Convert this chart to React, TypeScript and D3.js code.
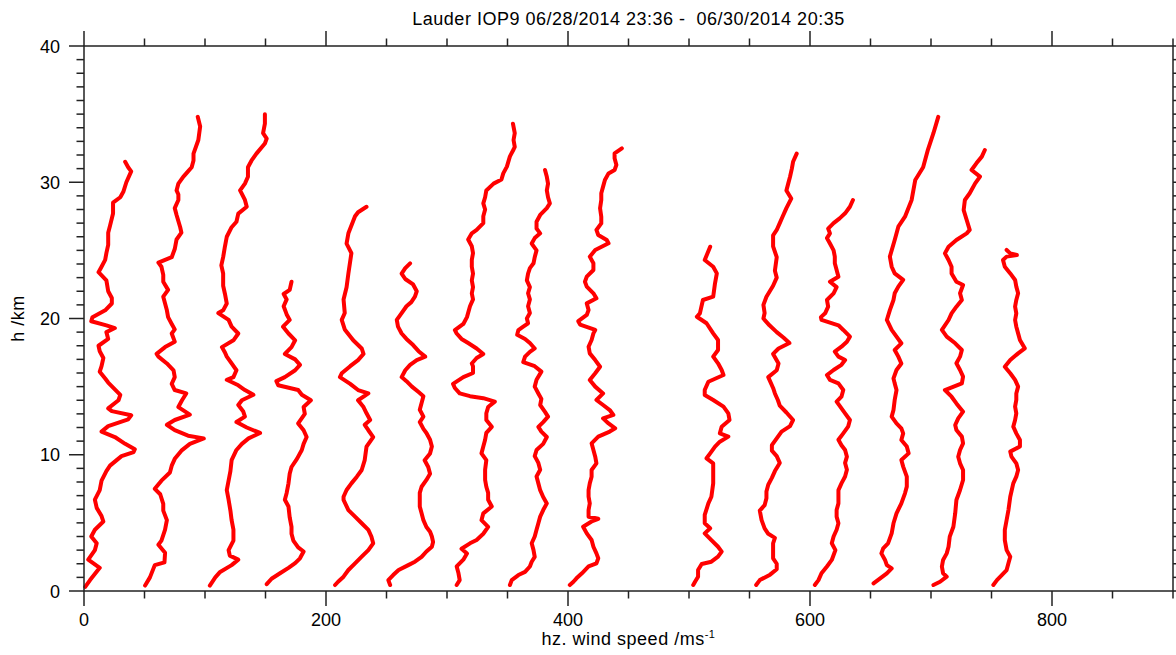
import React from "react";
import * as d3 from "d3";

const W = 1176;
const H = 655;
const plot = { left: 84, right: 1173, top: 46, bottom: 591 };

const titleText = "Lauder IOP9 06/28/2014 23:36 -  06/30/2014 20:35";
const xLabelText = "hz. wind speed /ms";
const yLabelText = "h /km";
const xMajorTicks = [0, 200, 400, 600, 800];
const yMajorTicks = [0, 10, 20, 30, 40];
const xDomain = [0, 900];
const yDomain = [0, 40];

// each sounding is shifted right by its launch offset (m/s)
const offsets = [0, 50, 100, 150, 200, 250, 300, 350, 400, 500, 550, 600, 650, 700, 750];

// profiles: [height km, horizontal wind speed m/s]
const s01: [number, number][] = [[0.3,1],[0.8,5],[1.7,13],[2.3,3.5],[3,9],[3.5,10.5],[4,6],[4.5,9],[5.1,16],[5.5,14.5],[6.1,10.5],[6.7,9],[7.4,13],[8.1,14.5],[8.8,18.5],[9.2,21.5],[9.9,31],[10.2,41],[10.4,42],[10.8,34],[11.3,25.5],[11.7,14.5],[12.1,20],[12.6,36.5],[12.9,39],[13.2,23],[13.4,20],[14,28.5],[14.4,30],[14.8,25.5],[15.3,20],[15.6,17.5],[16.1,13],[16.5,14.5],[17.1,16],[17.6,13],[18,12],[18.5,20],[19,18.5],[19.3,25.5],[19.5,18.5],[19.8,6],[20.1,7],[20.6,17.5],[21.1,23],[21.5,23],[22,20],[22.8,18.5],[23.4,12],[23.8,14.5],[24.3,17.5],[24.8,18.5],[25.4,20],[26.3,20],[26.8,21.5],[27.7,24],[28.5,24],[28.9,30],[29.3,32.5],[30,35],[30.8,39],[31.1,36.5],[31.5,34]];
const s02: [number, number][] = [[0.4,0.5],[1,4.5],[1.9,8.5],[2.1,16.5],[2.8,17],[3.4,11.5],[3.7,14],[4.5,17],[5.2,18.5],[5.9,15.5],[6.4,15.5],[7.1,13],[7.5,8.5],[8.1,14],[8.7,21],[9.2,22.5],[9.7,25],[10.3,30.5],[10.8,37.5],[11.2,49],[11.4,36],[11.8,25],[12.2,18.5],[12.55,25],[12.95,37.5],[13.5,28],[14,31],[14.5,34.5],[14.75,25],[15.2,22.5],[15.7,25],[16.2,24],[16.7,18.5],[17.2,11.5],[17.4,10],[17.9,17],[18.3,25],[18.9,22.5],[19.2,25],[19.6,22.5],[20.1,19.5],[20.6,18.5],[21.1,17],[21.6,15.5],[22.1,19.5],[22.7,15.5],[23.2,15.5],[23.8,14],[24.1,11.5],[24.5,22.5],[25.1,25],[25.8,26.5],[26.3,30.5],[26.7,29.5],[27.6,26.5],[28.1,25],[28.7,28],[29.1,28],[29.4,26.5],[29.9,28],[30.4,32],[30.8,36],[31.1,39],[31.6,40.5],[32.1,40.5],[33.1,44.5],[34.1,46],[34.8,44]];
const s03: [number, number][] = [[0.4,4],[1,8.5],[1.4,12.5],[1.9,22],[2.3,27.5],[2.6,20.5],[3,19.5],[3.7,23.5],[4.5,23.5],[5.2,22],[5.9,21],[6.7,19.5],[7.4,18],[8.1,19.5],[8.8,21],[9.6,22],[10.35,26],[10.8,30.5],[11.2,36],[11.6,45.5],[12,34.5],[12.4,26],[12.8,33],[13.2,31.5],[13.65,27.5],[14,30.5],[14.4,40],[14.75,33],[15.1,27.5],[15.5,18],[15.7,23.5],[16.2,26],[16.7,22],[17.2,18],[17.5,16.5],[17.9,14],[18.4,23.5],[18.9,27.5],[19.4,22],[19.9,19.5],[20.4,11],[20.6,15],[21.1,18],[21.8,16.5],[22.4,15],[23.3,15],[23.9,13.5],[24.5,15],[25.3,16.5],[26,18],[26.7,22],[27.1,26],[27.7,27.5],[28.2,34.5],[28.7,33],[29.4,29],[29.9,33],[30.4,35.5],[31.1,35.5],[31.6,38.5],[32.1,42.5],[32.85,49.5],[33.2,51],[33.6,48],[34.3,49.5],[35,49.5]];
const s04: [number, number][] = [[0.5,1],[0.9,5],[1.3,12],[1.7,19],[2.05,24.5],[2.4,28.5],[2.9,31.5],[3.2,27],[3.7,23],[4.2,21.5],[4.7,21.5],[5.4,20],[6.2,19],[6.7,16],[7.2,17.5],[7.9,19],[8.6,20],[9.1,21.5],[9.7,26],[10.35,30],[10.8,31.5],[11.3,34],[11.8,31.5],[12.3,27],[13,32.5],[13.5,31.5],[14,37.5],[14.4,30],[14.75,27],[15.1,10.5],[15.4,9],[15.7,16],[16.2,24.5],[16.6,28.5],[17,24.5],[17.4,16],[17.9,21.5],[18.4,24.5],[18.9,19],[19.4,14.5],[19.9,20],[20.3,17.5],[20.9,15],[21.4,17.5],[21.8,15],[22.1,20],[22.7,21.5]];
const s05: [number, number][] = [[0.44,7.5],[0.68,10],[1.05,14.5],[1.54,18.5],[2.03,24],[2.52,29.5],[3,35],[3.5,39],[4,37.5],[4.48,35],[4.97,29.5],[5.46,24],[5.94,18.5],[6.68,14.5],[6.92,14.5],[7.41,17],[7.9,21],[8.39,25.5],[8.88,29.5],[9.61,32],[10.6,33.5],[11.3,39],[11.8,35],[12.2,32],[12.55,36.5],[13.04,33.5],[13.5,31],[14,26.5],[14.5,35],[14.75,26.5],[15.2,20],[15.7,11.5],[15.98,13],[16.5,20],[16.95,26.5],[17.4,31],[17.8,29.5],[18.4,22.5],[19.2,15.5],[19.9,13],[20.4,15.5],[21.4,14.5],[22.3,17],[23.3,18.5],[24.8,21],[25.5,17],[26.25,18.5],[27.5,24],[27.8,26.5],[28.2,33.5]];
const s06: [number, number][] = [[0.44,3],[0.8,1.5],[1.17,5.5],[1.54,10],[1.9,18],[2.15,23.5],[2.5,29],[2.9,33],[3.25,37.5],[3.6,38.5],[4,37.5],[4.35,36],[4.7,33],[5.2,30.5],[5.7,29],[6.2,27.5],[6.7,27.5],[7.2,27.5],[7.65,29],[8.15,33],[8.6,36],[9.1,34.5],[9.6,31.5],[10.1,36],[10.6,37.5],[11.1,36],[11.6,33],[11.9,30.5],[12.4,27.5],[12.8,30.5],[13.3,27.5],[13.8,29],[14.3,30.5],[14.6,26.5],[15,21],[15.4,16.5],[15.7,12.5],[16.2,15.5],[16.6,19.5],[16.95,25],[17.2,32],[17.6,26.5],[18.05,22],[18.5,16.5],[18.9,12.5],[19.4,9.5],[19.9,8.5],[20.4,12.5],[20.9,16.5],[21.2,20.5],[21.6,23.5],[22,25],[22.5,22],[22.9,15.5],[23.3,12.5],[23.7,15.5],[24.05,19.5]];
const s07: [number, number][] = [[0.44,8],[0.8,10.5],[1.3,9.5],[1.8,8],[2.3,13.5],[2.75,16.5],[3.1,12],[3.5,19],[3.75,24.5],[4.2,30],[4.7,34],[5.2,28.5],[5.7,30],[6.2,37],[6.7,34],[7.2,34],[7.65,32.5],[8.15,31.5],[8.9,31.5],[9.6,32.5],[10.1,28.5],[10.6,30],[11.1,31.5],[11.6,32.5],[12.05,37],[12.55,32.5],[13.05,32.5],[13.5,34],[13.9,39.5],[14.15,30],[14.3,19],[14.5,10.5],[14.9,6.5],[15.2,5],[15.7,13.5],[16,21.5],[16.5,21.5],[16.7,20.5],[17.1,24.5],[17.4,30],[17.8,24.5],[18.2,17.5],[18.5,12],[18.9,8],[19.15,6.5],[19.6,13.5],[20.1,16.5],[20.9,19],[21.4,21.5],[21.85,20.5],[22.3,21.5],[22.8,20.5],[23.3,21.5],[23.8,20.5],[24.3,20.5],[24.8,21.5],[25.3,20.5],[25.8,17.5],[26.25,20.5],[26.5,24.5],[27,30],[27.5,30],[28,31.5],[28.45,30],[28.9,31.5],[29.4,32.5],[29.9,38.5],[30.2,45],[30.65,46.5],[31.15,49.5],[31.9,52],[32.4,55],[32.6,56],[33.1,55],[33.6,56],[34.3,54.5]];
const s08: [number, number][] = [[0.44,2],[0.8,3.5],[1.17,9],[1.4,14.5],[1.8,18.5],[2.15,20],[2.5,22.5],[3,21.5],[3.5,20],[4,22.5],[4.5,24],[4.97,25.5],[5.46,27],[5.94,29.5],[6.43,32.5],[6.9,29.5],[7.4,27],[7.9,25.5],[8.4,24],[8.9,27],[9.4,25.5],[9.9,22.5],[10.35,24],[10.8,29.5],[11.3,32.5],[11.7,28],[12.05,25.5],[12.4,29.5],[12.8,33.5],[13.15,31],[13.65,27],[14.1,28],[14.5,25.5],[15,22.5],[15.5,24],[16.1,28],[16.5,22.5],[16.8,13],[17.2,14.5],[17.55,18.5],[17.8,22.5],[18.2,18.5],[18.5,14.5],[18.8,8],[19.15,9],[19.4,13],[19.65,17],[20,16],[20.4,18.5],[20.9,17],[21.4,18.5],[21.85,17],[22.3,18.5],[22.8,16],[23.3,17],[23.7,18.5],[24.05,21.5],[24.5,22.5],[25,24],[25.5,20],[25.9,22.5],[26.25,27],[26.6,24],[27.1,24],[27.6,27],[28.1,32.5],[28.45,35],[28.9,33.5],[29.4,32.5],[29.9,33.5],[30.4,32.5],[30.9,31]];
const s09: [number, number][] = [[0.44,1.5],[0.68,4.5],[0.93,7],[1.3,11.5],[1.8,17],[2.03,23.5],[2.4,25],[2.76,23.5],[3.25,21],[3.74,19.5],[4.23,15.5],[4.72,12.5],[5.1,19.5],[5.3,25],[5.45,17],[5.94,17],[6.43,18],[6.92,17],[7.41,17],[7.9,18],[8.39,19.5],[8.88,19.5],[9.37,23.5],[9.86,22.5],[10.35,21],[10.84,19.5],[11.33,25],[11.7,34.5],[11.94,39],[12.3,33.5],[12.67,29],[12.92,37.5],[13.28,34.5],[13.65,29],[14.02,23.5],[14.5,29],[15,22.5],[15.49,18],[15.98,22.5],[16.46,26.5],[16.95,22.5],[17.44,18],[17.93,17],[18.42,19.5],[18.91,21],[19.16,22.5],[19.55,10],[19.8,8.5],[20.26,15.5],[20.62,17],[21.11,15.5],[21.48,23.5],[21.85,21],[22.34,15.5],[22.7,14],[23.07,15.5],[23.56,21],[24.05,21],[24.54,18],[25.03,22.5],[25.52,33.5],[25.76,32],[26.13,25],[26.5,23.5],[26.98,27.5],[27.47,27.5],[28.09,26.5],[28.7,27.5],[29.19,27.5],[29.68,29],[30.16,30.5],[30.65,33.5],[30.9,38.5],[31.27,40],[31.76,38.5],[32.12,38.5],[32.49,44.5]];
const s10: [number, number][] = [[0.44,3.5],[0.68,5],[1.05,7.5],[1.54,7.5],[1.98,10.5],[2.15,18.5],[2.52,24],[2.89,27],[3.25,24],[3.74,18.5],[4.23,13],[4.6,17.5],[4.97,13],[5.58,13],[6.43,16],[6.92,18.5],[7.9,20],[8.64,20],[9.37,20],[9.74,14.5],[10.1,17.5],[10.6,21.5],[10.96,25.5],[11.33,32.5],[11.57,25.5],[12.06,27],[12.55,33.5],[13.04,32.5],[13.53,28.5],[14.02,20],[14.39,13],[14.75,13],[15.36,16],[15.85,28.5],[16.22,27],[16.71,24],[17.2,20],[17.69,24],[18.42,24],[18.91,20],[19.65,14.5],[20.13,6.5],[20.38,9],[21.36,11.5],[21.6,20],[22.58,21.5],[23.31,23],[23.8,20],[24.29,13],[25.27,17.5]];
const s11: [number, number][] = [[0.44,5.5],[0.8,8.5],[1.2,17],[1.6,22.5],[2,22.5],[2.4,19.5],[2.9,19.5],[3.5,19.5],[3.9,21],[4.2,15.5],[4.6,12.5],[5.2,10],[5.9,8.5],[6.3,12.5],[6.8,14],[7.3,14],[7.8,15.5],[8.3,18.5],[8.8,21],[9.4,25],[9.9,22.5],[10.3,18.5],[10.7,18.5],[11.2,22.5],[11.7,26.5],[12.1,33.5],[12.55,36],[13.1,30.5],[13.6,25],[14,23.5],[14.5,21],[14.9,19.5],[15.7,15.5],[16.2,22.5],[16.7,24],[17.4,19.5],[17.8,24],[18.2,33],[18.6,28],[19,22.5],[19.5,16.5],[20,11.5],[20.4,12.5],[21,11.5],[21.6,14],[22.4,19.5],[23,22.5],[23.5,21],[24.5,22.5],[25.3,19.5],[26.1,19.5],[26.5,22.5],[27,25],[27.5,27.5],[28.1,30.5],[28.8,34.5],[29.4,30.5],[29.9,32],[30.4,33.5],[31,35],[31.5,36],[32.1,39]];
const s12: [number, number][] = [[0.44,4],[0.8,7],[1.3,9.5],[1.8,14],[2.28,18],[3,21],[3.5,18],[4,19.5],[4.5,22],[4.97,23.5],[5.46,22],[5.94,22],[6.43,23.5],[6.92,23.5],[7.4,23.5],[7.9,26],[8.4,29],[8.9,30.5],[9.4,29],[9.86,30.5],[10.35,29],[10.7,26],[11.1,23.5],[11.57,27.5],[12.06,31.5],[12.55,33],[13.04,29],[13.53,25],[13.9,22],[14.26,26],[14.75,27.5],[15.24,23.5],[15.5,16.5],[15.85,14],[16.22,19.5],[16.6,26],[16.95,29],[17.2,23.5],[17.57,20.5],[17.93,26],[18.3,30.5],[18.67,33],[19.16,27.5],[19.5,23.5],[19.9,9.5],[20.1,9],[20.38,12.5],[20.87,15],[21.36,14],[21.85,19.5],[22.3,22],[22.7,16.5],[23.07,23.5],[23.56,22],[24.05,20.5],[24.54,20.5],[25,19.5],[25.5,16.5],[25.9,14],[26.25,16.5],[26.6,15],[27,19.5],[27.35,24.5],[27.72,29],[28.2,33],[28.7,35.5]];
const s13: [number, number][] = [[0.56,2.5],[0.93,8],[1.3,13.5],[1.66,17.5],[1.9,13.5],[2.28,12],[2.76,9],[3.13,10.5],[3.5,14.5],[4.23,17.5],[4.97,19],[5.7,21.5],[6.43,25.5],[7.17,28.5],[7.66,30],[8.39,30],[9.13,27],[9.61,25.5],[10.1,31.5],[10.6,30],[11.08,25.5],[11.57,27],[11.94,25.5],[12.3,21.5],[12.8,17.5],[13.28,19],[14.02,20],[14.75,21.5],[15.24,20],[15.6,19],[16.22,21.5],[16.7,25.5],[17.2,23],[17.69,20],[18.18,25.5],[18.67,21.5],[19.16,17.5],[19.89,13.5],[20.62,16],[21.36,19],[21.85,20],[22.34,23],[22.83,27],[23.31,20],[23.8,17.5],[24.54,16],[25.76,20],[26.74,23],[27.47,28.5],[28.7,34],[30.17,37],[31.1,43.5],[32.4,47.5],[33.6,52],[34.8,56]];
const s14: [number, number][] = [[0.44,2],[0.68,7.5],[1.05,13],[1.3,10],[1.79,9],[2.28,10],[2.76,13],[3.25,14.5],[3.99,15.5],[4.72,18.5],[5.7,20],[6.68,21],[7.41,24],[8.15,26.5],[8.88,26.5],[9.37,24],[9.86,22.5],[10.35,24],[10.84,26.5],[11.33,25.5],[11.82,21],[12.18,20],[12.67,22.5],[13.16,26.5],[13.77,21],[14.26,17],[14.75,11.5],[15.24,25.5],[15.73,26.5],[16.22,24],[16.71,21],[17.2,24],[17.69,25.5],[18.18,20],[18.67,13],[19.16,9],[19.89,14.5],[20.38,17],[20.87,21],[21.36,25.5],[21.85,24],[22.46,26.5],[22.7,21],[23.31,17],[23.8,17],[24.29,14.5],[24.78,11.5],[25.27,14.5],[25.76,21],[26.25,29.5],[26.5,32],[27.23,29.5],[27.96,27],[28.7,28],[29.19,32],[29.92,36.5],[30.41,40.5],[30.9,33.5],[31.39,37.5],[31.88,42],[32.37,44.5]];
const s15: [number, number][] = [[0.44,1.5],[0.8,4.5],[1.17,8.5],[1.54,12.5],[2.03,14],[2.52,15.5],[3,12.5],[3.74,11],[4.48,11],[5.21,12.5],[5.94,14],[6.92,15.5],[7.9,18],[8.39,20.5],[8.88,22],[9.37,20.5],[9.86,16.5],[10.23,15.5],[10.6,23.5],[11.08,23.5],[11.57,20.5],[12.06,18],[12.55,19.5],[13.04,20.5],[13.53,19.5],[14.02,20.5],[14.5,20.5],[15,22],[15.49,19.5],[15.98,15.5],[16.46,11],[16.95,15.5],[17.44,22],[17.81,27.5],[18.42,23.5],[18.91,22],[19.4,20.5],[19.89,19.5],[20.38,20.5],[20.87,19.5],[21.36,20.5],[21.85,22],[22.34,20.5],[22.83,19.5],[23.31,15.5],[23.8,11],[24.29,9.5],[24.54,12.5],[24.66,21],[24.78,15.5],[25.03,12.5]];

const soundings = [s01, s02, s03, s04, s05, s06, s07, s08, s09, s10, s11, s12, s13, s14, s15];

const FONT = "'Liberation Sans', Arial, Helvetica, sans-serif";
const AXIS = "#222";

export default function App() {
  const x = d3.scaleLinear().domain(xDomain).range([plot.left, plot.right]);
  const y = d3.scaleLinear().domain(yDomain).range([plot.bottom, plot.top]);

  const xMinor = d3.range(xDomain[0], xDomain[1] + 1, 50).filter((v) => !xMajorTicks.includes(v));
  const yMinor = d3.range(yDomain[0], yDomain[1] + 1, 1).filter((v) => !yMajorTicks.includes(v));

  const line = (off: number) =>
    d3
      .line<[number, number]>()
      .x((d) => x(d[1] + off))
      .y((d) => y(d[0]));

  const majorLen = 15;
  const minorLen = 7.5;
  const cx = (plot.left + plot.right) / 2;
  const cy = (plot.top + plot.bottom) / 2;

  return (
    <svg
      width={W}
      height={H}
      viewBox={`0 0 ${W} ${H}`}
      style={{ position: "absolute", left: 0, top: 0, display: "block", background: "#fff" }}
      fontFamily={FONT}
    >
      <rect x={0} y={0} width={W} height={H} fill="#fff" />

      {/* wind speed profiles */}
      <g fill="none" stroke="#ff0000" strokeWidth={4} strokeLinejoin="round" strokeLinecap="round">
        {soundings.map((s, i) => (
          <path key={i} d={line(offsets[i])(s) || ""} />
        ))}
      </g>

      {/* frame */}
      <rect
        x={plot.left}
        y={plot.top}
        width={plot.right - plot.left}
        height={plot.bottom - plot.top}
        fill="none"
        stroke={AXIS}
        strokeWidth={1.5}
      />

      {/* ticks, pointing outward on all four sides */}
      <g stroke={AXIS} strokeWidth={1.5}>
        {xMajorTicks.map((v) => (
          <g key={"xM" + v}>
            <line x1={x(v)} x2={x(v)} y1={plot.bottom} y2={plot.bottom + majorLen} />
            <line x1={x(v)} x2={x(v)} y1={plot.top} y2={plot.top - majorLen} />
          </g>
        ))}
        {xMinor.map((v) => (
          <g key={"xm" + v}>
            <line x1={x(v)} x2={x(v)} y1={plot.bottom} y2={plot.bottom + minorLen} />
            <line x1={x(v)} x2={x(v)} y1={plot.top} y2={plot.top - minorLen} />
          </g>
        ))}
        {yMajorTicks.map((v) => (
          <g key={"yM" + v}>
            <line x1={plot.left} x2={plot.left - majorLen} y1={y(v)} y2={y(v)} />
            <line x1={plot.right} x2={plot.right + majorLen} y1={y(v)} y2={y(v)} />
          </g>
        ))}
        {yMinor.map((v) => (
          <g key={"ym" + v}>
            <line x1={plot.left} x2={plot.left - minorLen} y1={y(v)} y2={y(v)} />
            <line x1={plot.right} x2={plot.right + minorLen} y1={y(v)} y2={y(v)} />
          </g>
        ))}
      </g>

      {/* tick labels */}
      <g fill="#000" fontSize={18}>
        {xMajorTicks.map((v) => (
          <text key={"xl" + v} x={x(v)} y={plot.bottom + 35} textAnchor="middle">
            {v}
          </text>
        ))}
        {yMajorTicks.map((v) => (
          <text key={"yl" + v} x={plot.left - 24} y={y(v) + 6.5} textAnchor="end">
            {v}
          </text>
        ))}
      </g>

      {/* titles */}
      <text
        x={cx}
        y={24.5}
        textAnchor="middle"
        fontSize={18}
        letterSpacing={0.5}
        fill="#000"
        style={{ whiteSpace: "pre" }}
      >
        {titleText}
      </text>
      <text x={cx} y={645} textAnchor="middle" fontSize={18} letterSpacing={0.5} fill="#000">
        {xLabelText}
        <tspan fontSize={11} dy={-7}>-1</tspan>
      </text>
      <text
        transform={`translate(24, ${cy}) rotate(-90)`}
        textAnchor="middle"
        fontSize={18}
        letterSpacing={0.5}
        fill="#000"
      >
        {yLabelText}
      </text>
    </svg>
  );
}
